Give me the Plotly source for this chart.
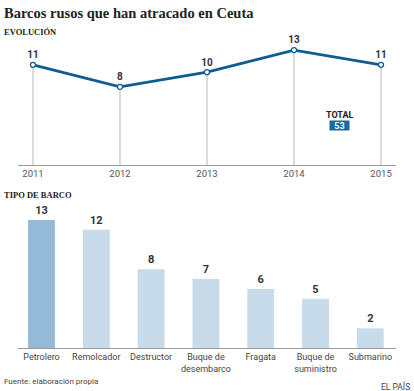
import plotly.graph_objects as go

# ---- data ----
years = [2011, 2012, 2013, 2014, 2015]
arrivals = [11, 8, 10, 13, 11]
total_label = "53"

ship_types = ["Petrolero", "Remolcador", "Destructor", "Buque de<br>desembarco",
              "Fragata", "Buque de<br>suministro", "Submarino"]
ship_counts = [13, 12, 8, 7, 6, 5, 2]

W, H = 414, 391
def py(px):
    return 1 - px / H

LINE_BLUE = "#0f5c92"
SANS = "Roboto, Lato, Arial, sans-serif"
SERIF = "Liberation Serif, Times New Roman, serif"
Y1_MIN, Y1_MAX = -2.62, 14.64

fig = go.Figure()

# drop lines from baseline to each point (via error bars)
fig.add_trace(go.Scatter(
    x=years, y=arrivals, mode="markers",
    marker=dict(size=1, color="rgba(0,0,0,0)"),
    error_y=dict(type="data", symmetric=False,
                 array=[0] * len(arrivals),
                 arrayminus=[v - Y1_MIN for v in arrivals],
                 color="#b5b5b5", thickness=1, width=0),
    hoverinfo="skip", showlegend=False, xaxis="x", yaxis="y"))

fig.add_trace(go.Scatter(
    x=years, y=arrivals, mode="lines+markers+text",
    line=dict(color=LINE_BLUE, width=2.8),
    marker=dict(size=5, color="white", line=dict(color=LINE_BLUE, width=1.3)),
    text=[str(v) for v in arrivals], textposition="top center",
    textfont=dict(family=SANS, size=10, color="#333333", weight="bold"),
    cliponaxis=False, showlegend=False, xaxis="x", yaxis="y"))

bar_colors = ["#94bad8"] + ["#c8dbea"] * (len(ship_counts) - 1)
fig.add_trace(go.Bar(
    x=ship_types, y=ship_counts, marker=dict(color=bar_colors, line=dict(width=0)),
    text=[str(v) for v in ship_counts], textposition="outside",
    textfont=dict(family=SANS, size=11, color="#333333", weight="bold"),
    cliponaxis=False, showlegend=False, xaxis="x2", yaxis="y2"))

fig.update_layout(
    width=W, height=H, margin=dict(l=0, r=0, t=0, b=0),
    paper_bgcolor="white", plot_bgcolor="white",
    font=dict(family=SANS, color="#333333"),
    bargap=0.51,
    xaxis=dict(domain=[18 / W, 396 / W], range=[2010.828, 2015.172],
               tickmode="array", tickvals=years, ticktext=[str(y) for y in years],
               showgrid=False, zeroline=False, showline=True, linecolor="#9a9a9a",
               linewidth=1, ticks="", tickfont=dict(family=SANS, size=9.5, color="#555555"),
               fixedrange=True),
    yaxis=dict(domain=[py(165), py(38)], range=[Y1_MIN, Y1_MAX], visible=False,
               fixedrange=True),
    xaxis2=dict(domain=[18 / W, 396 / W], range=[-0.429, 6.469],
                showgrid=False, zeroline=False, showline=True, linecolor="#9a9a9a",
                linewidth=1, ticks="", tickfont=dict(family=SANS, size=9, color="#444444"),
                anchor="y2", fixedrange=True),
    yaxis2=dict(domain=[py(348), py(200)], range=[0, 15.03], visible=False,
                anchor="x2", fixedrange=True),
    annotations=[
        dict(text="<b>Barcos rusos que han atracado en Ceuta</b>", x=2 / W, y=py(3),
             xref="paper", yref="paper", xanchor="left", yanchor="top", showarrow=False,
             font=dict(family=SERIF, size=14.5, color="#222222")),
        dict(text="<b>EVOLUCIÓN</b>", x=2 / W, y=py(24.5), xref="paper", yref="paper",
             xanchor="left", yanchor="top", showarrow=False,
             font=dict(family=SERIF, size=8.5, color="#222222")),
        dict(text="<b>TIPO DE BARCO</b>", x=2 / W, y=py(187.5), xref="paper", yref="paper",
             xanchor="left", yanchor="top", showarrow=False,
             font=dict(family=SERIF, size=8.5, color="#222222")),
        dict(text="<b>TOTAL</b>", x=340 / W, y=py(115), xref="paper", yref="paper",
             xanchor="center", yanchor="middle", showarrow=False,
             font=dict(family=SANS, size=9, color="#222222")),
        dict(text="<b>" + total_label + "</b>", x=339.5 / W, y=py(125.5), xref="paper",
             yref="paper", xanchor="center", yanchor="middle", showarrow=False,
             bgcolor="#1a69a0", borderpad=0, width=19, height=9,
             font=dict(family=SANS, size=9, color="white")),
        dict(text="Fuente: elaboración propia", x=2 / W, y=py(381), xref="paper",
             yref="paper", xanchor="left", yanchor="middle", showarrow=False,
             font=dict(family=SANS, size=8, color="#444444")),
        dict(text="EL PAÍS", x=412 / W, y=py(386), xref="paper", yref="paper",
             xanchor="right", yanchor="middle", showarrow=False,
             font=dict(family=SANS, size=8.5, color="#444444")),
    ],
)

fig.write_html("out.html", config={"displayModeBar": False},
               post_script="document.body.style.margin='0';document.body.style.overflow='hidden';")
